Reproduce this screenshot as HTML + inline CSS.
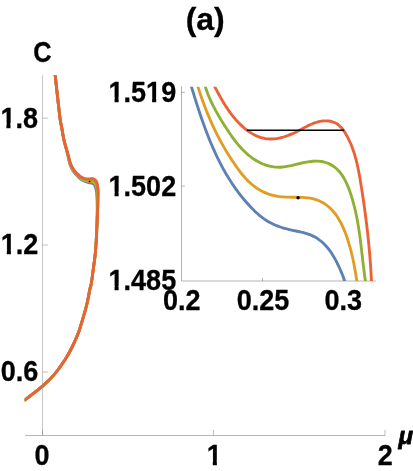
<!DOCTYPE html>
<html><head><meta charset="utf-8"><title>plot</title>
<style>
html,body{margin:0;padding:0;background:#fff;}
body{width:413px;height:471px;overflow:hidden;font-family:"Liberation Sans",sans-serif;}
svg{display:block;}
</style></head><body>
<svg width="413" height="471" viewBox="0 0 413 471">
<rect width="413" height="471" fill="#fff"/>
<g font-family="Liberation Sans, sans-serif" font-weight="bold" fill="#000" stroke="#000" stroke-linejoin="round" opacity="0.999">
<g transform="translate(205.2 30) scale(1.0 1)"><text x="-19.55" text-anchor="start" font-size="32" stroke-width="0.3" >(a)</text></g>
<g transform="translate(42.4 62) scale(0.875 1)"><text x="-10.47" text-anchor="start" font-size="29.0" stroke-width="0.3" >C</text></g>
<g transform="translate(38.0 127.9) scale(0.932 1)"><text x="-40.31" text-anchor="start" font-size="29.0" stroke-width="0.3" >1.8</text><rect x="-41.87" y="-4.66" width="7.99" height="6.78" fill="#fff" stroke="none"/><rect x="-29.51" y="-4.66" width="5.98" height="6.78" fill="#fff" stroke="none"/></g>
<g transform="translate(38.4 254.4) scale(0.932 1)"><text x="-40.31" text-anchor="start" font-size="29.0" stroke-width="0.3" >1.2</text><rect x="-41.87" y="-4.66" width="7.99" height="6.78" fill="#fff" stroke="none"/><rect x="-29.51" y="-4.66" width="5.98" height="6.78" fill="#fff" stroke="none"/></g>
<g transform="translate(38.4 381.3) scale(0.932 1)"><text x="-40.31" text-anchor="start" font-size="29.0" stroke-width="0.3" >0.6</text></g>
<g transform="translate(42.0 464.8) scale(0.932 1)"><text x="-8.06" text-anchor="start" font-size="29.0" stroke-width="0.3" >0</text></g>
<g transform="translate(214.3 464.8) scale(0.932 1)"><text x="-8.06" text-anchor="start" font-size="29.0" stroke-width="0.3" >1</text><rect x="-9.62" y="-4.66" width="7.99" height="6.78" fill="#fff" stroke="none"/><rect x="2.74" y="-4.66" width="5.98" height="6.78" fill="#fff" stroke="none"/></g>
<g transform="translate(385.2 464.8) scale(0.932 1)"><text x="-8.06" text-anchor="start" font-size="29.0" stroke-width="0.3" >2</text></g>
<g transform="translate(398.6 444.3) scale(1.0 1)"><text x="0.00" text-anchor="start" font-size="24" stroke-width="0.8" font-style="italic">μ</text></g>
<g transform="translate(176.2 102.1) scale(0.932 1)"><text x="-72.57" text-anchor="start" font-size="29.0" stroke-width="0.3" >1.519</text><rect x="-74.13" y="-4.66" width="7.99" height="6.78" fill="#fff" stroke="none"/><rect x="-61.77" y="-4.66" width="5.98" height="6.78" fill="#fff" stroke="none"/><rect x="-32.47" y="-4.66" width="6.64" height="6.78" fill="#fff" stroke="none"/><rect x="-21.45" y="-4.66" width="5.98" height="6.78" fill="#fff" stroke="none"/></g>
<g transform="translate(176.2 196.2) scale(0.932 1)"><text x="-72.57" text-anchor="start" font-size="29.0" stroke-width="0.3" >1.502</text><rect x="-74.13" y="-4.66" width="7.99" height="6.78" fill="#fff" stroke="none"/><rect x="-61.77" y="-4.66" width="5.98" height="6.78" fill="#fff" stroke="none"/></g>
<g transform="translate(176.2 290.4) scale(0.932 1)"><text x="-72.57" text-anchor="start" font-size="29.0" stroke-width="0.3" >1.485</text><rect x="-74.13" y="-4.66" width="7.99" height="6.78" fill="#fff" stroke="none"/><rect x="-61.77" y="-4.66" width="5.98" height="6.78" fill="#fff" stroke="none"/></g>
<g transform="translate(181.8 310.4) scale(0.932 1)"><text x="-20.16" text-anchor="start" font-size="29.0" stroke-width="0.3" >0.2</text></g>
<g transform="translate(263 310.4) scale(0.932 1)"><text x="-28.22" text-anchor="start" font-size="29.0" stroke-width="0.3" >0.25</text></g>
<g transform="translate(343.2 310.4) scale(0.932 1)"><text x="-20.16" text-anchor="start" font-size="29.0" stroke-width="0.3" >0.3</text></g>
</g>
<clipPath id="mc"><rect x="24.65" y="75.2" width="365" height="360"/></clipPath>
<g clip-path="url(#mc)">
<path d="M24.00 400.50 C24.18 400.37 22.05 402.05 25.10 399.70 C28.15 397.35 37.38 390.67 42.30 386.40 C47.22 382.13 50.78 378.58 54.60 374.10 C58.42 369.62 62.23 364.10 65.20 359.50 C68.17 354.90 70.25 350.82 72.40 346.50 C74.55 342.18 76.38 338.17 78.10 333.60 C79.82 329.03 81.25 323.95 82.70 319.10 C84.15 314.25 85.63 309.35 86.80 304.50 C87.97 299.65 88.95 293.48 89.70 290.00 C90.45 286.52 90.70 287.08 91.30 283.60 C91.90 280.12 92.65 273.95 93.29 269.10 C93.94 264.25 94.69 259.35 95.18 254.50 C95.67 249.65 95.93 245.90 96.24 240.00 C96.56 234.10 96.89 225.02 97.05 219.10 C97.21 213.18 97.23 208.18 97.20 204.50 C97.18 200.82 97.06 199.33 96.91 197.00 C96.76 194.67 96.70 192.54 96.31 190.50 C95.92 188.46 94.87 185.72 94.57 184.75 C94.26 183.78 94.50 184.69 94.47 184.65 C94.43 184.62 94.38 184.57 94.34 184.53 C94.29 184.50 94.25 184.46 94.20 184.42 C94.16 184.38 94.11 184.33 94.06 184.29 C94.01 184.25 93.96 184.21 93.91 184.17 C93.85 184.13 93.80 184.09 93.74 184.06 C93.69 184.02 93.63 183.98 93.57 183.94 C93.51 183.90 93.45 183.86 93.39 183.82 C93.32 183.79 93.26 183.75 93.19 183.71 C93.12 183.68 93.06 183.64 92.98 183.60 C92.91 183.57 92.84 183.54 92.76 183.50 C92.69 183.47 92.61 183.44 92.53 183.41 C92.45 183.38 92.37 183.35 92.28 183.32 C92.19 183.29 92.11 183.26 92.01 183.23 C91.92 183.21 91.83 183.18 91.73 183.16 C91.64 183.14 91.54 183.12 91.44 183.10 C91.34 183.08 91.23 183.06 91.12 183.04 C91.02 183.02 90.91 183.01 90.80 182.99 C90.69 182.98 90.58 182.96 90.46 182.94 C90.35 182.92 90.23 182.89 90.12 182.86 C90.00 182.84 89.88 182.81 89.76 182.79 C89.65 182.77 89.53 182.74 89.41 182.72 C89.29 182.70 89.17 182.67 89.05 182.65 C88.94 182.62 88.82 182.60 88.70 182.58 C88.58 182.55 88.47 182.53 88.35 182.50 C88.24 182.47 88.12 182.45 88.01 182.42 C87.90 182.40 87.78 182.37 87.67 182.34 C87.56 182.31 87.45 182.28 87.34 182.25 C87.23 182.22 87.13 182.19 87.02 182.16 C86.91 182.13 86.81 182.10 86.71 182.07 C86.60 182.04 86.50 182.00 86.40 181.97 C86.30 181.93 86.20 181.90 86.10 181.86 C86.00 181.83 85.91 181.79 85.81 181.75 C85.72 181.71 85.63 181.67 85.53 181.64 C85.44 181.60 85.35 181.56 85.26 181.52 C85.17 181.48 85.08 181.43 85.00 181.39 C84.91 181.35 84.83 181.31 84.74 181.27 C84.65 181.23 84.56 181.18 84.47 181.14 C84.38 181.10 84.30 181.06 84.21 181.02 C84.12 180.97 84.04 180.93 83.96 180.89 C83.87 180.85 83.79 180.80 83.71 180.76 C83.62 180.72 83.54 180.67 83.46 180.63 C83.38 180.59 83.30 180.54 83.23 180.50 C83.15 180.46 83.07 180.42 82.99 180.37 C82.92 180.33 82.84 180.28 82.77 180.24 C82.69 180.20 82.62 180.15 82.55 180.11 C82.47 180.07 82.40 180.02 82.33 179.98 C82.26 179.94 82.19 179.91 82.12 179.87 C82.05 179.84 81.98 179.80 81.91 179.76 C81.84 179.73 81.78 179.69 81.71 179.65 C81.65 179.62 81.58 179.58 81.51 179.54 C81.45 179.50 81.39 179.47 81.32 179.43 C81.26 179.39 81.20 179.35 81.13 179.32 C81.07 179.28 81.01 179.24 80.95 179.20 C80.89 179.16 80.83 179.13 80.77 179.09 C80.71 179.05 80.65 179.01 80.59 178.97 C80.54 178.93 80.48 178.89 80.42 178.85 C80.36 178.81 80.31 178.78 80.25 178.74 C80.20 178.70 80.14 178.66 80.09 178.62 C80.03 178.58 79.98 178.54 79.93 178.50 C79.87 178.46 79.82 178.42 79.77 178.38 C79.71 178.34 79.66 178.30 79.61 178.26 C79.56 178.22 79.51 178.18 79.46 178.14 C79.41 178.10 79.36 178.06 79.31 178.02 C79.26 177.98 79.22 177.94 79.18 177.90 C79.14 177.86 79.10 177.82 79.06 177.78 C79.02 177.74 78.98 177.69 78.94 177.65 C78.90 177.61 78.86 177.57 78.82 177.53 C78.78 177.49 78.74 177.45 78.70 177.41 C78.67 177.37 78.63 177.33 78.59 177.29 C78.55 177.25 78.52 177.21 78.48 177.16 C78.44 177.12 78.41 177.08 78.37 177.04 C78.33 177.00 78.30 176.96 78.26 176.92 C78.22 176.88 78.19 176.84 78.15 176.80 C78.12 176.76 78.08 176.71 78.05 176.67 C78.01 176.63 77.98 176.59 77.94 176.55 C77.91 176.51 77.87 176.46 77.84 176.43 C77.81 176.40 78.07 176.66 77.78 176.36 C77.49 176.06 76.87 175.44 76.12 174.60 C75.36 173.76 74.24 172.90 73.25 171.30 C72.26 169.70 71.11 167.72 70.19 165.00 C69.27 162.28 68.29 157.28 67.73 155.00 C67.17 152.72 67.51 153.93 66.84 151.30 C66.18 148.67 64.61 143.23 63.74 139.20 C62.87 135.17 62.26 130.80 61.61 127.10 C60.96 123.40 60.91 125.67 59.83 117.00 C58.76 108.33 55.95 82.27 55.15 75.10 C54.35 67.93 55.07 74.18 55.05 74.00" fill="none" stroke="#5e81b5" stroke-width="2.85" stroke-linejoin="round"/>
<path d="M24.00 400.50 C24.18 400.37 22.05 402.05 25.10 399.70 C28.15 397.35 37.38 390.67 42.30 386.40 C47.22 382.13 50.78 378.58 54.60 374.10 C58.42 369.62 62.23 364.10 65.20 359.50 C68.17 354.90 70.25 350.82 72.40 346.50 C74.55 342.18 76.38 338.17 78.10 333.60 C79.82 329.03 81.25 323.95 82.70 319.10 C84.15 314.25 85.63 309.35 86.80 304.50 C87.97 299.65 88.95 293.48 89.70 290.00 C90.45 286.52 90.70 287.08 91.30 283.60 C91.90 280.12 92.65 273.95 93.30 269.10 C93.94 264.25 94.69 259.35 95.19 254.50 C95.68 249.65 95.94 245.90 96.27 240.00 C96.60 234.10 96.96 225.02 97.17 219.10 C97.37 213.18 97.47 208.18 97.52 204.50 C97.57 200.82 97.51 199.33 97.45 197.00 C97.39 194.67 97.43 192.54 97.17 190.50 C96.90 188.46 96.09 185.73 95.86 184.75 C95.64 183.77 95.83 184.68 95.82 184.65 C95.80 184.61 95.78 184.57 95.76 184.53 C95.75 184.49 95.73 184.45 95.71 184.41 C95.69 184.37 95.67 184.33 95.65 184.29 C95.63 184.25 95.61 184.21 95.59 184.17 C95.57 184.14 95.55 184.10 95.53 184.06 C95.50 184.02 95.48 183.98 95.46 183.94 C95.43 183.90 95.41 183.87 95.39 183.83 C95.36 183.79 95.34 183.75 95.31 183.71 C95.28 183.67 95.26 183.63 95.23 183.60 C95.20 183.56 95.17 183.52 95.14 183.48 C95.11 183.44 95.08 183.40 95.05 183.36 C95.02 183.33 94.99 183.29 94.95 183.25 C94.92 183.21 94.88 183.17 94.85 183.13 C94.81 183.09 94.78 183.06 94.74 183.02 C94.70 182.98 94.66 182.94 94.62 182.90 C94.58 182.86 94.53 182.83 94.49 182.79 C94.44 182.75 94.40 182.71 94.35 182.68 C94.30 182.64 94.25 182.60 94.20 182.57 C94.15 182.53 94.09 182.49 94.04 182.46 C93.98 182.42 93.92 182.39 93.86 182.35 C93.80 182.32 93.74 182.28 93.67 182.25 C93.61 182.22 93.54 182.19 93.47 182.16 C93.40 182.13 93.33 182.10 93.25 182.07 C93.18 182.04 93.10 182.01 93.02 181.98 C92.93 181.96 92.84 181.93 92.75 181.91 C92.67 181.88 92.57 181.86 92.48 181.84 C92.39 181.82 92.29 181.80 92.20 181.78 C92.10 181.76 92.00 181.74 91.90 181.72 C91.80 181.71 91.70 181.69 91.60 181.68 C91.50 181.67 91.39 181.65 91.29 181.64 C91.18 181.63 91.08 181.62 90.97 181.62 C90.86 181.61 90.75 181.61 90.64 181.60 C90.54 181.59 90.43 181.58 90.31 181.57 C90.20 181.55 90.09 181.53 89.98 181.52 C89.87 181.50 89.75 181.49 89.64 181.47 C89.53 181.46 89.41 181.44 89.30 181.43 C89.18 181.41 89.07 181.40 88.96 181.38 C88.84 181.37 88.73 181.35 88.61 181.34 C88.50 181.32 88.38 181.31 88.27 181.29 C88.15 181.27 88.04 181.26 87.93 181.24 C87.81 181.22 87.70 181.21 87.59 181.19 C87.47 181.17 87.36 181.15 87.25 181.13 C87.14 181.11 87.03 181.08 86.92 181.06 C86.81 181.04 86.70 181.01 86.59 180.99 C86.48 180.96 86.37 180.94 86.27 180.91 C86.16 180.88 86.05 180.85 85.95 180.83 C85.85 180.80 85.75 180.77 85.64 180.74 C85.54 180.71 85.44 180.67 85.35 180.64 C85.25 180.61 85.15 180.58 85.06 180.54 C84.96 180.51 84.87 180.48 84.78 180.44 C84.69 180.41 84.60 180.37 84.51 180.33 C84.43 180.30 84.34 180.26 84.25 180.22 C84.17 180.19 84.09 180.15 84.01 180.11 C83.92 180.07 83.84 180.03 83.76 179.99 C83.68 179.95 83.61 179.91 83.53 179.87 C83.45 179.84 83.38 179.79 83.30 179.75 C83.23 179.71 83.15 179.67 83.08 179.63 C83.01 179.59 82.93 179.55 82.86 179.51 C82.79 179.47 82.72 179.43 82.65 179.39 C82.58 179.35 82.51 179.30 82.44 179.26 C82.37 179.22 82.31 179.18 82.24 179.14 C82.17 179.10 82.10 179.07 82.04 179.03 C81.97 179.00 81.91 178.97 81.84 178.93 C81.78 178.90 81.71 178.86 81.65 178.83 C81.58 178.79 81.52 178.76 81.46 178.72 C81.39 178.69 81.33 178.66 81.27 178.62 C81.21 178.59 81.15 178.55 81.09 178.52 C81.03 178.48 80.97 178.45 80.91 178.41 C80.85 178.38 80.79 178.34 80.73 178.30 C80.67 178.27 80.62 178.23 80.56 178.20 C80.50 178.16 80.45 178.13 80.39 178.09 C80.34 178.05 80.28 178.02 80.23 177.98 C80.18 177.95 80.13 177.91 80.09 177.87 C80.04 177.84 79.99 177.80 79.95 177.77 C79.90 177.73 79.86 177.69 79.81 177.66 C79.77 177.62 79.72 177.58 79.68 177.55 C79.64 177.51 79.59 177.47 79.55 177.44 C79.51 177.40 79.47 177.36 79.42 177.32 C79.38 177.29 79.34 177.25 79.30 177.21 C79.26 177.18 79.22 177.14 79.18 177.10 C79.14 177.06 79.10 177.03 79.06 176.99 C79.03 176.95 78.99 176.91 78.95 176.88 C78.91 176.84 78.88 176.80 78.84 176.76 C78.80 176.72 78.77 176.69 78.73 176.65 C78.70 176.61 78.66 176.57 78.63 176.53 C78.59 176.50 78.55 176.45 78.53 176.42 C78.50 176.39 78.77 176.66 78.47 176.36 C78.17 176.06 77.51 175.44 76.71 174.60 C75.92 173.76 74.74 172.90 73.70 171.30 C72.66 169.70 71.43 167.72 70.46 165.00 C69.48 162.28 68.44 157.28 67.85 155.00 C67.26 152.72 67.61 153.93 66.93 151.30 C66.25 148.67 64.65 143.23 63.77 139.20 C62.88 135.17 62.28 130.80 61.62 127.10 C60.97 123.40 60.92 125.67 59.84 117.00 C58.76 108.33 55.95 82.27 55.15 75.10 C54.35 67.93 55.07 74.18 55.05 74.00" fill="none" stroke="#e19c24" stroke-width="2.85" stroke-linejoin="round"/>
<path d="M24.00 400.50 C24.18 400.37 22.05 402.05 25.10 399.70 C28.15 397.35 37.38 390.67 42.30 386.40 C47.22 382.13 50.78 378.58 54.60 374.10 C58.42 369.62 62.23 364.10 65.20 359.50 C68.17 354.90 70.25 350.82 72.40 346.50 C74.55 342.18 76.38 338.17 78.10 333.60 C79.82 329.03 81.25 323.95 82.70 319.10 C84.15 314.25 85.63 309.35 86.80 304.50 C87.97 299.65 88.95 293.48 89.70 290.00 C90.45 286.52 90.70 287.08 91.30 283.60 C91.90 280.12 92.65 273.95 93.30 269.10 C93.95 264.25 94.70 259.35 95.20 254.50 C95.69 249.65 95.95 245.90 96.29 240.00 C96.63 234.10 97.00 225.02 97.24 219.10 C97.49 213.18 97.64 208.18 97.74 204.50 C97.84 200.82 97.82 199.33 97.83 197.00 C97.83 194.67 97.95 192.54 97.77 190.50 C97.59 188.46 96.94 185.72 96.77 184.75 C96.60 183.78 96.75 184.69 96.73 184.66 C96.72 184.62 96.70 184.58 96.69 184.54 C96.68 184.50 96.66 184.47 96.65 184.43 C96.63 184.39 96.62 184.35 96.61 184.31 C96.59 184.27 96.58 184.24 96.57 184.20 C96.56 184.16 96.54 184.12 96.53 184.08 C96.52 184.05 96.51 184.01 96.49 183.97 C96.48 183.93 96.47 183.89 96.46 183.86 C96.45 183.82 96.43 183.78 96.42 183.74 C96.41 183.70 96.40 183.67 96.39 183.63 C96.37 183.59 96.36 183.55 96.35 183.52 C96.34 183.48 96.32 183.44 96.31 183.40 C96.30 183.37 96.29 183.33 96.27 183.29 C96.26 183.25 96.25 183.22 96.23 183.18 C96.22 183.14 96.21 183.10 96.19 183.07 C96.18 183.03 96.16 182.99 96.15 182.95 C96.13 182.92 96.12 182.88 96.10 182.84 C96.09 182.81 96.07 182.77 96.06 182.73 C96.04 182.69 96.02 182.66 96.00 182.62 C95.99 182.58 95.97 182.54 95.95 182.51 C95.93 182.47 95.91 182.43 95.89 182.39 C95.87 182.36 95.85 182.32 95.83 182.28 C95.81 182.24 95.79 182.21 95.76 182.17 C95.74 182.13 95.72 182.10 95.69 182.06 C95.67 182.02 95.64 181.98 95.61 181.94 C95.58 181.91 95.54 181.87 95.51 181.83 C95.47 181.79 95.44 181.76 95.40 181.72 C95.36 181.68 95.33 181.64 95.29 181.61 C95.25 181.57 95.21 181.53 95.17 181.49 C95.13 181.45 95.09 181.42 95.05 181.38 C95.00 181.34 94.96 181.30 94.91 181.27 C94.87 181.23 94.82 181.19 94.77 181.16 C94.72 181.12 94.67 181.08 94.62 181.05 C94.57 181.01 94.52 180.98 94.46 180.94 C94.41 180.91 94.35 180.87 94.29 180.84 C94.23 180.81 94.17 180.78 94.10 180.75 C94.04 180.71 93.97 180.68 93.91 180.65 C93.84 180.63 93.77 180.60 93.69 180.57 C93.62 180.54 93.55 180.52 93.47 180.49 C93.39 180.47 93.31 180.44 93.23 180.42 C93.14 180.40 93.06 180.38 92.97 180.36 C92.88 180.34 92.79 180.32 92.69 180.31 C92.60 180.29 92.50 180.28 92.40 180.26 C92.30 180.25 92.20 180.24 92.10 180.23 C92.00 180.22 91.89 180.21 91.79 180.21 C91.68 180.20 91.58 180.20 91.47 180.19 C91.37 180.19 91.26 180.19 91.16 180.19 C91.05 180.19 90.94 180.19 90.84 180.20 C90.73 180.20 90.63 180.21 90.52 180.21 C90.41 180.22 90.31 180.23 90.20 180.23 C90.09 180.23 89.99 180.21 89.88 180.21 C89.77 180.20 89.67 180.20 89.56 180.20 C89.46 180.19 89.35 180.19 89.25 180.18 C89.14 180.18 89.04 180.17 88.93 180.17 C88.83 180.17 88.72 180.16 88.62 180.16 C88.52 180.15 88.41 180.15 88.31 180.14 C88.20 180.14 88.10 180.13 88.00 180.12 C87.89 180.11 87.79 180.11 87.69 180.10 C87.58 180.09 87.48 180.08 87.38 180.06 C87.27 180.05 87.17 180.04 87.07 180.02 C86.96 180.01 86.86 179.99 86.76 179.98 C86.65 179.96 86.55 179.94 86.45 179.92 C86.34 179.90 86.24 179.88 86.14 179.85 C86.04 179.83 85.93 179.81 85.83 179.78 C85.73 179.76 85.63 179.73 85.53 179.70 C85.43 179.68 85.33 179.65 85.24 179.62 C85.14 179.59 85.04 179.56 84.95 179.53 C84.85 179.50 84.76 179.47 84.67 179.44 C84.57 179.41 84.48 179.37 84.39 179.34 C84.30 179.31 84.21 179.27 84.13 179.24 C84.04 179.21 83.95 179.17 83.87 179.14 C83.78 179.10 83.70 179.07 83.62 179.03 C83.54 178.99 83.46 178.96 83.38 178.92 C83.30 178.88 83.22 178.85 83.14 178.81 C83.07 178.77 82.99 178.73 82.92 178.70 C82.84 178.66 82.77 178.62 82.69 178.58 C82.62 178.54 82.55 178.50 82.48 178.47 C82.41 178.43 82.34 178.39 82.27 178.35 C82.20 178.31 82.13 178.27 82.06 178.23 C81.99 178.19 81.93 178.16 81.86 178.13 C81.79 178.10 81.72 178.07 81.66 178.03 C81.60 178.00 81.54 177.97 81.48 177.94 C81.42 177.91 81.36 177.87 81.31 177.84 C81.25 177.81 81.19 177.77 81.13 177.74 C81.08 177.71 81.02 177.68 80.97 177.64 C80.91 177.61 80.86 177.58 80.80 177.55 C80.75 177.51 80.69 177.48 80.64 177.45 C80.59 177.42 80.53 177.38 80.48 177.35 C80.43 177.32 80.38 177.28 80.33 177.25 C80.28 177.22 80.23 177.19 80.18 177.15 C80.13 177.12 80.09 177.08 80.04 177.05 C79.99 177.02 79.95 176.98 79.90 176.95 C79.86 176.91 79.81 176.88 79.77 176.85 C79.73 176.81 79.68 176.78 79.64 176.74 C79.60 176.71 79.56 176.67 79.52 176.63 C79.49 176.60 79.45 176.56 79.41 176.53 C79.38 176.49 79.33 176.44 79.31 176.41 C79.28 176.39 79.58 176.66 79.26 176.36 C78.94 176.06 78.23 175.44 77.39 174.60 C76.55 173.76 75.32 172.90 74.22 171.30 C73.11 169.70 71.80 167.72 70.76 165.00 C69.72 162.28 68.60 157.28 67.98 155.00 C67.36 152.72 67.72 153.93 67.03 151.30 C66.33 148.67 64.70 143.23 63.80 139.20 C62.91 135.17 62.29 130.80 61.63 127.10 C60.97 123.40 60.92 125.67 59.84 117.00 C58.76 108.33 55.95 82.27 55.15 75.10 C54.35 67.93 55.07 74.18 55.05 74.00" fill="none" stroke="#8fb032" stroke-width="2.85" stroke-linejoin="round"/>
<path d="M24.00 400.50 C24.18 400.37 22.05 402.05 25.10 399.70 C28.15 397.35 37.38 390.67 42.30 386.40 C47.22 382.13 50.78 378.58 54.60 374.10 C58.42 369.62 62.23 364.10 65.20 359.50 C68.17 354.90 70.25 350.82 72.40 346.50 C74.55 342.18 76.38 338.17 78.10 333.60 C79.82 329.03 81.25 323.95 82.70 319.10 C84.15 314.25 85.63 309.35 86.80 304.50 C87.97 299.65 88.95 293.48 89.70 290.00 C90.45 286.52 90.70 287.08 91.30 283.60 C91.90 280.12 92.65 273.95 93.30 269.10 C93.95 264.25 94.70 259.35 95.20 254.50 C95.70 249.65 95.95 245.90 96.30 240.00 C96.65 234.10 97.03 225.02 97.30 219.10 C97.57 213.18 97.77 208.18 97.90 204.50 C98.03 200.82 98.05 199.33 98.10 197.00 C98.15 194.67 98.31 192.54 98.20 190.50 C98.09 188.46 97.55 185.72 97.42 184.75 C97.29 183.78 97.41 184.70 97.41 184.66 C97.40 184.63 97.40 184.59 97.39 184.55 C97.39 184.51 97.38 184.48 97.37 184.44 C97.37 184.40 97.36 184.37 97.35 184.33 C97.35 184.29 97.34 184.25 97.33 184.22 C97.33 184.18 97.32 184.14 97.31 184.11 C97.31 184.07 97.30 184.03 97.29 183.99 C97.28 183.96 97.28 183.92 97.27 183.88 C97.26 183.85 97.25 183.81 97.24 183.77 C97.23 183.73 97.22 183.70 97.22 183.66 C97.21 183.62 97.20 183.59 97.19 183.55 C97.18 183.51 97.17 183.47 97.16 183.44 C97.15 183.40 97.14 183.36 97.13 183.33 C97.12 183.29 97.11 183.25 97.10 183.21 C97.09 183.18 97.08 183.14 97.07 183.10 C97.06 183.07 97.05 183.03 97.03 182.99 C97.02 182.96 97.01 182.92 97.00 182.88 C96.99 182.84 96.98 182.81 96.96 182.77 C96.95 182.73 96.94 182.70 96.93 182.66 C96.92 182.62 96.90 182.59 96.89 182.55 C96.88 182.51 96.87 182.48 96.85 182.44 C96.84 182.40 96.83 182.36 96.81 182.33 C96.80 182.29 96.79 182.25 96.77 182.22 C96.76 182.18 96.75 182.14 96.73 182.11 C96.72 182.07 96.71 182.03 96.69 182.00 C96.67 181.96 96.65 181.92 96.63 181.89 C96.60 181.85 96.58 181.81 96.56 181.77 C96.54 181.74 96.52 181.70 96.50 181.66 C96.47 181.63 96.45 181.59 96.43 181.55 C96.41 181.52 96.39 181.48 96.36 181.44 C96.34 181.41 96.32 181.37 96.30 181.33 C96.27 181.30 96.25 181.26 96.23 181.22 C96.20 181.18 96.18 181.15 96.16 181.11 C96.13 181.07 96.11 181.04 96.09 181.00 C96.06 180.96 96.04 180.93 96.02 180.89 C95.99 180.85 95.97 180.82 95.94 180.78 C95.92 180.74 95.89 180.71 95.87 180.67 C95.84 180.63 95.82 180.60 95.79 180.56 C95.76 180.52 95.74 180.49 95.71 180.45 C95.68 180.41 95.65 180.38 95.62 180.34 C95.59 180.30 95.56 180.27 95.53 180.23 C95.50 180.20 95.47 180.16 95.43 180.12 C95.40 180.09 95.37 180.05 95.33 180.02 C95.30 179.98 95.26 179.94 95.22 179.91 C95.19 179.87 95.15 179.84 95.11 179.80 C95.07 179.77 95.03 179.73 94.99 179.70 C94.94 179.66 94.90 179.63 94.85 179.59 C94.81 179.56 94.76 179.52 94.71 179.49 C94.67 179.46 94.62 179.42 94.57 179.39 C94.51 179.35 94.46 179.32 94.41 179.29 C94.35 179.25 94.29 179.22 94.24 179.19 C94.18 179.15 94.12 179.12 94.05 179.09 C93.99 179.06 93.93 179.03 93.86 179.00 C93.79 178.97 93.73 178.94 93.66 178.91 C93.59 178.88 93.52 178.86 93.44 178.83 C93.37 178.81 93.29 178.79 93.20 178.77 C93.12 178.75 93.03 178.73 92.94 178.72 C92.85 178.70 92.75 178.69 92.65 178.68 C92.56 178.67 92.46 178.66 92.36 178.66 C92.26 178.65 92.15 178.65 92.05 178.65 C91.95 178.65 91.84 178.65 91.74 178.66 C91.63 178.66 91.53 178.67 91.43 178.67 C91.33 178.68 91.23 178.69 91.13 178.70 C91.03 178.71 90.93 178.72 90.83 178.73 C90.74 178.74 90.64 178.76 90.55 178.77 C90.46 178.79 90.36 178.80 90.27 178.82 C90.18 178.83 90.09 178.85 90.00 178.87 C89.90 178.88 89.81 178.88 89.72 178.88 C89.63 178.89 89.54 178.90 89.45 178.90 C89.36 178.91 89.27 178.91 89.18 178.92 C89.09 178.93 89.00 178.93 88.91 178.94 C88.82 178.94 88.72 178.95 88.63 178.95 C88.54 178.96 88.44 178.96 88.35 178.96 C88.25 178.96 88.16 178.97 88.06 178.97 C87.96 178.97 87.86 178.97 87.76 178.97 C87.67 178.97 87.57 178.96 87.47 178.96 C87.37 178.96 87.27 178.95 87.17 178.95 C87.06 178.94 86.96 178.94 86.86 178.93 C86.76 178.92 86.66 178.91 86.56 178.90 C86.46 178.90 86.35 178.88 86.25 178.87 C86.15 178.86 86.05 178.84 85.95 178.83 C85.85 178.81 85.75 178.80 85.65 178.78 C85.55 178.76 85.45 178.74 85.35 178.72 C85.25 178.70 85.15 178.67 85.05 178.65 C84.96 178.63 84.86 178.60 84.76 178.57 C84.67 178.55 84.57 178.52 84.48 178.49 C84.38 178.46 84.29 178.43 84.20 178.40 C84.10 178.37 84.01 178.34 83.92 178.31 C83.83 178.28 83.74 178.25 83.66 178.21 C83.57 178.18 83.49 178.15 83.41 178.11 C83.33 178.08 83.25 178.05 83.18 178.01 C83.10 177.98 83.02 177.94 82.95 177.91 C82.88 177.87 82.80 177.84 82.73 177.80 C82.66 177.76 82.59 177.73 82.52 177.69 C82.45 177.65 82.38 177.62 82.32 177.58 C82.25 177.54 82.18 177.50 82.12 177.47 C82.05 177.43 81.99 177.40 81.93 177.36 C81.87 177.33 81.81 177.30 81.75 177.27 C81.69 177.24 81.63 177.21 81.57 177.18 C81.51 177.15 81.45 177.11 81.40 177.08 C81.34 177.05 81.29 177.02 81.23 176.99 C81.18 176.95 81.12 176.92 81.07 176.89 C81.02 176.86 80.96 176.83 80.91 176.79 C80.86 176.76 80.81 176.73 80.76 176.70 C80.71 176.66 80.66 176.63 80.61 176.60 C80.56 176.57 80.51 176.53 80.47 176.50 C80.42 176.47 80.36 176.43 80.32 176.40 C80.29 176.38 80.61 176.66 80.26 176.36 C79.92 176.06 79.15 175.44 78.26 174.60 C77.36 173.76 76.06 172.90 74.87 171.30 C73.69 169.70 72.27 167.72 71.15 165.00 C70.03 162.28 68.82 157.28 68.15 155.00 C67.48 152.72 67.87 153.93 67.15 151.30 C66.43 148.67 64.77 143.23 63.85 139.20 C62.93 135.17 62.32 130.80 61.65 127.10 C60.98 123.40 60.93 125.67 59.85 117.00 C58.77 108.33 55.95 82.27 55.15 75.10 C54.35 67.93 55.07 74.18 55.05 74.00" fill="none" stroke="#eb6235" stroke-width="2.85" stroke-linejoin="round"/>
</g>
<ellipse cx="89.57" cy="181.48" rx="0.9" ry="0.7" fill="#000"/>
<g stroke="#666" stroke-width="0.5" fill="none">
<path d="M42.5 75.4V435.5" stroke="#8c8c8c"/>
<path d="M25.1 435.5H385.2" stroke="#707070"/>
<path d="M42.75 118.2 h5.1" stroke="#7c7c7c"/>
<path d="M42.75 245.0 h5.1" stroke="#7c7c7c"/>
<path d="M42.75 371.95 h5.1" stroke="#7c7c7c"/>
<path d="M42.5 435.5 v-5.7" stroke="#7a7a7a"/>
<path d="M213.45 435.5 v-5.7" stroke="#7a7a7a"/>
<path d="M385 435.5 v-5.7" stroke="#7a7a7a"/>
<path d="M181.5 86.5V281"/>
<path d="M181.5 281H375.7"/>
<path d="M181.5 92.3 h3.4"/>
<path d="M181.5 186.1 h3.4"/>
<path d="M262.5 281 v-3.2"/>
<path d="M343.2 281 v-3.2"/>
</g>
<clipPath id="ic"><rect x="181.5" y="86.7" width="195" height="194.3"/></clipPath>
<g clip-path="url(#ic)">
<path d="M191.09 85.59 C191.26 86.12 191.74 87.72 192.06 88.79 C192.39 89.86 192.72 90.93 193.04 92.00 C193.37 93.06 193.70 94.13 194.03 95.20 C194.36 96.27 194.69 97.35 195.03 98.42 C195.36 99.49 195.70 100.56 196.04 101.63 C196.38 102.70 196.72 103.77 197.06 104.84 C197.40 105.91 197.75 106.99 198.10 108.06 C198.45 109.13 198.80 110.20 199.15 111.27 C199.51 112.34 199.86 113.41 200.22 114.47 C200.58 115.54 200.94 116.61 201.31 117.68 C201.68 118.74 202.05 119.81 202.42 120.87 C202.79 121.94 203.17 123.00 203.55 124.06 C203.93 125.13 204.32 126.19 204.71 127.25 C205.09 128.30 205.49 129.36 205.88 130.42 C206.28 131.47 206.68 132.53 207.09 133.58 C207.49 134.63 207.90 135.68 208.32 136.73 C208.73 137.78 209.15 138.83 209.58 139.87 C210.00 140.91 210.43 141.95 210.87 142.99 C211.30 144.03 211.74 145.07 212.19 146.10 C212.63 147.14 213.08 148.17 213.54 149.20 C214.00 150.22 214.46 151.25 214.93 152.27 C215.40 153.29 215.87 154.31 216.35 155.33 C216.83 156.34 217.32 157.35 217.81 158.36 C218.30 159.37 218.80 160.38 219.31 161.38 C219.81 162.38 220.32 163.38 220.84 164.37 C221.36 165.37 221.89 166.36 222.42 167.34 C222.95 168.33 223.49 169.31 224.04 170.29 C224.59 171.27 225.14 172.24 225.70 173.21 C226.26 174.18 226.83 175.14 227.41 176.10 C227.99 177.06 228.57 178.02 229.17 178.97 C229.76 179.92 230.36 180.86 230.97 181.80 C231.58 182.74 232.19 183.68 232.82 184.61 C233.45 185.54 234.08 186.46 234.72 187.38 C235.36 188.30 236.02 189.21 236.68 190.12 C237.34 191.03 238.00 191.93 238.68 192.83 C239.36 193.72 240.05 194.62 240.74 195.50 C241.44 196.38 242.15 197.26 242.86 198.14 C243.58 199.01 244.30 199.87 245.04 200.73 C245.77 201.59 246.52 202.45 247.27 203.29 C248.03 204.14 248.79 204.98 249.57 205.81 C250.34 206.64 251.13 207.47 251.92 208.29 C252.72 209.11 253.53 209.92 254.34 210.71 C255.16 211.51 255.99 212.29 256.83 213.06 C257.68 213.82 258.53 214.57 259.40 215.30 C260.26 216.03 261.14 216.74 262.04 217.42 C262.93 218.10 263.84 218.75 264.76 219.38 C265.68 220.01 266.61 220.60 267.56 221.17 C268.51 221.74 269.48 222.28 270.45 222.80 C271.43 223.31 272.42 223.80 273.42 224.26 C274.42 224.72 275.43 225.16 276.46 225.57 C277.48 225.99 278.52 226.38 279.56 226.75 C280.61 227.12 281.67 227.47 282.74 227.80 C283.80 228.13 284.88 228.44 285.96 228.73 C287.05 229.02 288.14 229.29 289.25 229.55 C290.35 229.81 291.46 230.05 292.57 230.29 C293.69 230.53 294.81 230.75 295.92 230.98 C297.04 231.22 298.16 231.44 299.27 231.69 C300.38 231.93 301.49 232.18 302.59 232.46 C303.68 232.73 304.77 233.02 305.85 233.34 C306.92 233.66 307.98 234.01 309.02 234.39 C310.06 234.77 311.09 235.19 312.09 235.64 C313.10 236.09 314.08 236.58 315.04 237.11 C316.00 237.64 316.93 238.20 317.84 238.81 C318.75 239.41 319.63 240.06 320.48 240.74 C321.34 241.42 322.17 242.14 322.98 242.89 C323.79 243.64 324.57 244.43 325.33 245.24 C326.09 246.05 326.82 246.89 327.54 247.76 C328.26 248.62 328.95 249.52 329.62 250.43 C330.30 251.34 330.95 252.28 331.58 253.24 C332.21 254.19 332.83 255.16 333.42 256.15 C334.02 257.14 334.59 258.14 335.15 259.16 C335.71 260.17 336.25 261.20 336.78 262.23 C337.30 263.26 337.81 264.31 338.31 265.35 C338.80 266.39 339.28 267.45 339.75 268.50 C340.21 269.55 340.66 270.60 341.10 271.65 C341.54 272.69 341.97 273.74 342.38 274.78 C342.80 275.82 343.20 276.86 343.59 277.88 C343.98 278.90 344.36 279.92 344.74 280.92 C345.11 281.92 345.64 283.38 345.82 283.88" fill="none" stroke="#5e81b5" stroke-width="2.85" stroke-linejoin="round"/>
<path d="M197.60 85.58 C197.75 86.08 198.21 87.59 198.53 88.59 C198.85 89.59 199.17 90.59 199.49 91.58 C199.82 92.58 200.15 93.58 200.48 94.57 C200.81 95.56 201.15 96.55 201.50 97.54 C201.84 98.53 202.19 99.52 202.54 100.51 C202.89 101.49 203.25 102.48 203.61 103.46 C203.97 104.44 204.34 105.42 204.71 106.40 C205.08 107.38 205.46 108.36 205.84 109.33 C206.22 110.30 206.61 111.28 207.00 112.25 C207.39 113.22 207.79 114.19 208.19 115.15 C208.59 116.12 208.99 117.08 209.41 118.04 C209.82 119.00 210.23 119.96 210.66 120.92 C211.08 121.88 211.50 122.83 211.94 123.78 C212.37 124.74 212.80 125.69 213.25 126.63 C213.69 127.58 214.14 128.53 214.59 129.47 C215.04 130.41 215.50 131.35 215.97 132.29 C216.43 133.23 216.90 134.17 217.37 135.10 C217.85 136.03 218.33 136.96 218.81 137.89 C219.30 138.82 219.79 139.74 220.29 140.66 C220.78 141.59 221.29 142.51 221.79 143.42 C222.30 144.34 222.82 145.25 223.34 146.17 C223.86 147.08 224.38 147.99 224.91 148.89 C225.44 149.80 225.98 150.70 226.52 151.60 C227.06 152.50 227.61 153.40 228.17 154.29 C228.72 155.19 229.28 156.08 229.85 156.97 C230.41 157.86 230.99 158.74 231.57 159.62 C232.14 160.51 232.73 161.38 233.32 162.26 C233.91 163.14 234.51 164.01 235.11 164.88 C235.71 165.75 236.32 166.62 236.94 167.48 C237.55 168.34 238.18 169.19 238.81 170.04 C239.44 170.89 240.08 171.73 240.73 172.56 C241.38 173.39 242.04 174.22 242.72 175.02 C243.39 175.83 244.07 176.63 244.77 177.41 C245.46 178.20 246.17 178.97 246.89 179.72 C247.61 180.47 248.35 181.21 249.10 181.92 C249.85 182.64 250.61 183.34 251.39 184.02 C252.17 184.70 252.97 185.36 253.78 185.99 C254.60 186.62 255.43 187.24 256.28 187.82 C257.13 188.41 258.00 188.97 258.88 189.50 C259.77 190.04 260.67 190.55 261.59 191.03 C262.51 191.51 263.45 191.96 264.40 192.39 C265.34 192.82 266.31 193.22 267.28 193.59 C268.26 193.96 269.25 194.30 270.25 194.61 C271.25 194.92 272.26 195.20 273.28 195.45 C274.30 195.70 275.34 195.92 276.38 196.11 C277.42 196.30 278.47 196.45 279.52 196.58 C280.58 196.71 281.64 196.81 282.71 196.89 C283.77 196.97 284.85 197.03 285.92 197.08 C287.00 197.13 288.07 197.15 289.15 197.18 C290.23 197.20 291.31 197.21 292.39 197.22 C293.47 197.23 294.55 197.24 295.62 197.25 C296.70 197.26 297.77 197.27 298.84 197.30 C299.90 197.32 300.97 197.35 302.02 197.40 C303.08 197.45 304.13 197.51 305.17 197.60 C306.21 197.69 307.25 197.79 308.27 197.93 C309.29 198.06 310.30 198.22 311.30 198.42 C312.30 198.61 313.29 198.84 314.26 199.11 C315.23 199.38 316.19 199.69 317.13 200.03 C318.08 200.38 319.00 200.77 319.91 201.20 C320.82 201.62 321.72 202.09 322.59 202.59 C323.47 203.09 324.32 203.62 325.16 204.19 C326.00 204.76 326.82 205.37 327.61 206.00 C328.41 206.64 329.19 207.30 329.94 208.00 C330.70 208.70 331.43 209.43 332.14 210.18 C332.85 210.94 333.54 211.72 334.21 212.53 C334.87 213.34 335.51 214.18 336.12 215.03 C336.74 215.89 337.33 216.78 337.90 217.67 C338.47 218.57 339.02 219.50 339.54 220.43 C340.07 221.36 340.58 222.31 341.07 223.27 C341.56 224.22 342.03 225.19 342.48 226.16 C342.93 227.14 343.37 228.12 343.79 229.10 C344.21 230.09 344.62 231.08 345.01 232.07 C345.40 233.06 345.78 234.06 346.14 235.06 C346.51 236.06 346.86 237.07 347.20 238.07 C347.54 239.08 347.86 240.09 348.18 241.10 C348.49 242.11 348.80 243.12 349.10 244.13 C349.39 245.14 349.68 246.15 349.96 247.16 C350.24 248.17 350.51 249.18 350.77 250.19 C351.03 251.20 351.29 252.21 351.53 253.22 C351.78 254.22 352.02 255.23 352.26 256.24 C352.49 257.25 352.72 258.26 352.94 259.28 C353.16 260.29 353.37 261.30 353.58 262.31 C353.79 263.33 353.99 264.34 354.19 265.36 C354.38 266.38 354.58 267.40 354.76 268.42 C354.95 269.45 355.13 270.47 355.31 271.50 C355.49 272.53 355.66 273.56 355.83 274.59 C356.00 275.63 356.16 276.67 356.32 277.71 C356.48 278.75 356.64 279.80 356.80 280.85 C356.95 281.90 357.17 283.49 357.25 284.02" fill="none" stroke="#e19c24" stroke-width="2.85" stroke-linejoin="round"/>
<path d="M205.00 85.48 C205.15 85.97 205.59 87.46 205.91 88.43 C206.23 89.40 206.55 90.37 206.89 91.33 C207.23 92.28 207.59 93.23 207.95 94.17 C208.31 95.10 208.68 96.03 209.07 96.96 C209.45 97.88 209.85 98.80 210.25 99.70 C210.66 100.61 211.07 101.52 211.50 102.41 C211.92 103.31 212.35 104.20 212.79 105.08 C213.24 105.97 213.69 106.85 214.14 107.72 C214.60 108.60 215.07 109.47 215.54 110.34 C216.02 111.21 216.50 112.07 216.98 112.93 C217.47 113.79 217.97 114.65 218.47 115.51 C218.97 116.36 219.48 117.22 219.99 118.07 C220.50 118.92 221.02 119.78 221.54 120.63 C222.06 121.48 222.59 122.33 223.12 123.18 C223.65 124.03 224.19 124.88 224.73 125.73 C225.27 126.59 225.81 127.44 226.36 128.29 C226.91 129.14 227.47 129.99 228.03 130.84 C228.59 131.68 229.15 132.53 229.72 133.37 C230.30 134.21 230.87 135.05 231.46 135.88 C232.04 136.71 232.64 137.54 233.24 138.36 C233.84 139.17 234.45 139.99 235.07 140.79 C235.68 141.60 236.31 142.39 236.95 143.18 C237.58 143.97 238.23 144.74 238.88 145.51 C239.54 146.27 240.20 147.03 240.88 147.77 C241.56 148.52 242.25 149.25 242.95 149.96 C243.65 150.68 244.36 151.38 245.09 152.07 C245.81 152.76 246.55 153.43 247.30 154.08 C248.05 154.74 248.82 155.38 249.60 156.00 C250.38 156.62 251.17 157.23 251.98 157.81 C252.79 158.39 253.61 158.96 254.45 159.50 C255.29 160.04 256.14 160.57 257.01 161.06 C257.87 161.56 258.75 162.04 259.64 162.48 C260.53 162.93 261.44 163.35 262.35 163.74 C263.26 164.14 264.18 164.50 265.11 164.84 C266.04 165.17 266.98 165.47 267.92 165.74 C268.87 166.01 269.82 166.25 270.78 166.45 C271.73 166.65 272.70 166.81 273.66 166.94 C274.63 167.06 275.60 167.15 276.57 167.20 C277.54 167.25 278.52 167.25 279.49 167.22 C280.47 167.20 281.45 167.13 282.43 167.03 C283.41 166.94 284.39 166.81 285.38 166.66 C286.37 166.52 287.35 166.34 288.34 166.15 C289.33 165.96 290.33 165.75 291.32 165.53 C292.32 165.32 293.31 165.08 294.31 164.85 C295.31 164.61 296.32 164.36 297.32 164.12 C298.33 163.88 299.33 163.64 300.34 163.40 C301.35 163.17 302.37 162.93 303.38 162.72 C304.40 162.50 305.41 162.29 306.43 162.11 C307.45 161.92 308.46 161.75 309.48 161.61 C310.49 161.47 311.51 161.35 312.51 161.26 C313.52 161.18 314.53 161.12 315.53 161.10 C316.53 161.09 317.52 161.10 318.51 161.17 C319.50 161.23 320.48 161.34 321.45 161.49 C322.42 161.65 323.38 161.85 324.33 162.10 C325.27 162.34 326.21 162.64 327.12 162.97 C328.02 163.31 328.92 163.69 329.78 164.11 C330.64 164.53 331.48 164.99 332.29 165.49 C333.10 165.99 333.88 166.54 334.63 167.12 C335.38 167.69 336.10 168.31 336.79 168.96 C337.48 169.60 338.15 170.29 338.79 171.00 C339.43 171.71 340.04 172.45 340.64 173.22 C341.23 173.99 341.80 174.79 342.34 175.61 C342.89 176.42 343.41 177.27 343.91 178.13 C344.42 178.99 344.90 179.88 345.36 180.78 C345.83 181.68 346.27 182.60 346.70 183.53 C347.13 184.46 347.53 185.41 347.93 186.36 C348.32 187.31 348.70 188.28 349.07 189.26 C349.43 190.23 349.78 191.21 350.12 192.20 C350.46 193.18 350.79 194.17 351.11 195.16 C351.42 196.15 351.73 197.14 352.02 198.13 C352.32 199.12 352.61 200.11 352.88 201.09 C353.16 202.08 353.43 203.06 353.69 204.05 C353.95 205.03 354.20 206.02 354.45 207.00 C354.69 207.98 354.93 208.96 355.16 209.95 C355.38 210.93 355.60 211.91 355.82 212.89 C356.03 213.87 356.24 214.85 356.44 215.83 C356.64 216.80 356.83 217.78 357.02 218.76 C357.21 219.74 357.39 220.72 357.57 221.70 C357.74 222.67 357.91 223.65 358.08 224.63 C358.25 225.60 358.41 226.58 358.56 227.56 C358.72 228.54 358.87 229.51 359.02 230.49 C359.17 231.47 359.31 232.45 359.45 233.42 C359.59 234.40 359.72 235.38 359.86 236.36 C359.99 237.34 360.12 238.32 360.25 239.30 C360.38 240.27 360.50 241.25 360.62 242.24 C360.75 243.22 360.87 244.20 360.98 245.18 C361.10 246.16 361.22 247.14 361.34 248.13 C361.45 249.11 361.57 250.09 361.68 251.08 C361.80 252.06 361.91 253.05 362.02 254.04 C362.14 255.03 362.25 256.01 362.36 257.00 C362.48 257.99 362.59 258.98 362.70 259.98 C362.82 260.97 362.93 261.96 363.05 262.96 C363.17 263.95 363.28 264.95 363.40 265.95 C363.52 266.94 363.65 267.94 363.77 268.95 C363.89 269.95 364.02 270.95 364.15 271.95 C364.28 272.96 364.41 273.97 364.54 274.97 C364.68 275.98 364.81 276.99 364.96 278.01 C365.10 279.02 365.24 280.03 365.39 281.05 C365.54 282.07 365.78 283.60 365.85 284.11" fill="none" stroke="#8fb032" stroke-width="2.85" stroke-linejoin="round"/>
<path d="M214.18 85.66 C214.40 86.08 215.05 87.33 215.49 88.16 C215.93 89.00 216.38 89.85 216.83 90.69 C217.28 91.53 217.73 92.38 218.19 93.23 C218.65 94.08 219.12 94.93 219.59 95.78 C220.07 96.63 220.54 97.48 221.03 98.33 C221.52 99.18 222.01 100.03 222.51 100.87 C223.01 101.72 223.51 102.56 224.03 103.40 C224.54 104.24 225.06 105.08 225.60 105.91 C226.13 106.74 226.67 107.57 227.21 108.39 C227.76 109.21 228.32 110.03 228.89 110.84 C229.45 111.65 230.03 112.45 230.61 113.24 C231.20 114.04 231.80 114.82 232.40 115.60 C233.01 116.38 233.63 117.14 234.26 117.90 C234.88 118.66 235.52 119.40 236.18 120.14 C236.83 120.87 237.49 121.59 238.17 122.30 C238.84 123.01 239.53 123.71 240.23 124.39 C240.93 125.07 241.64 125.74 242.37 126.39 C243.09 127.04 243.83 127.68 244.59 128.30 C245.34 128.92 246.11 129.53 246.89 130.12 C247.67 130.70 248.47 131.27 249.28 131.82 C250.09 132.37 250.91 132.89 251.75 133.39 C252.59 133.89 253.44 134.37 254.29 134.82 C255.15 135.27 256.03 135.69 256.91 136.07 C257.79 136.46 258.68 136.81 259.58 137.13 C260.48 137.45 261.39 137.73 262.31 137.97 C263.23 138.21 264.16 138.42 265.09 138.57 C266.02 138.73 266.97 138.85 267.91 138.92 C268.86 139.00 269.81 139.03 270.77 139.02 C271.72 139.02 272.68 138.98 273.64 138.90 C274.60 138.83 275.57 138.72 276.53 138.57 C277.49 138.43 278.46 138.26 279.42 138.05 C280.39 137.85 281.35 137.62 282.31 137.36 C283.27 137.11 284.22 136.82 285.17 136.51 C286.12 136.21 287.07 135.88 288.01 135.53 C288.95 135.18 289.89 134.80 290.81 134.42 C291.74 134.03 292.65 133.63 293.56 133.21 C294.47 132.79 295.37 132.35 296.26 131.91 C297.14 131.47 298.02 131.01 298.89 130.55 C299.76 130.09 300.63 129.62 301.49 129.16 C302.35 128.70 303.20 128.23 304.06 127.77 C304.92 127.32 305.77 126.86 306.64 126.42 C307.50 125.98 308.36 125.55 309.23 125.14 C310.10 124.73 310.97 124.33 311.85 123.96 C312.74 123.59 313.63 123.24 314.54 122.92 C315.44 122.60 316.36 122.30 317.29 122.05 C318.23 121.79 319.18 121.56 320.14 121.38 C321.10 121.19 322.08 121.04 323.06 120.95 C324.03 120.85 325.02 120.80 325.99 120.80 C326.96 120.81 327.94 120.86 328.89 120.98 C329.84 121.10 330.78 121.27 331.70 121.52 C332.61 121.77 333.51 122.09 334.37 122.47 C335.23 122.85 336.06 123.30 336.86 123.81 C337.66 124.32 338.42 124.90 339.14 125.52 C339.87 126.14 340.55 126.82 341.20 127.54 C341.85 128.25 342.47 129.02 343.06 129.81 C343.65 130.59 344.20 131.42 344.74 132.26 C345.28 133.09 345.79 133.96 346.28 134.82 C346.78 135.68 347.25 136.55 347.71 137.43 C348.17 138.31 348.61 139.19 349.04 140.07 C349.46 140.96 349.87 141.85 350.27 142.75 C350.66 143.65 351.04 144.55 351.41 145.45 C351.78 146.36 352.13 147.27 352.47 148.18 C352.81 149.09 353.13 150.01 353.44 150.93 C353.76 151.86 354.06 152.78 354.35 153.71 C354.64 154.64 354.92 155.57 355.18 156.51 C355.45 157.44 355.71 158.38 355.96 159.32 C356.21 160.26 356.45 161.21 356.68 162.15 C356.91 163.10 357.13 164.05 357.34 165.00 C357.56 165.95 357.76 166.90 357.96 167.86 C358.17 168.81 358.36 169.77 358.55 170.73 C358.74 171.69 358.92 172.65 359.10 173.61 C359.27 174.57 359.45 175.53 359.62 176.49 C359.79 177.45 359.95 178.42 360.12 179.38 C360.28 180.35 360.44 181.31 360.60 182.28 C360.76 183.24 360.91 184.21 361.07 185.17 C361.22 186.14 361.38 187.10 361.53 188.07 C361.68 189.03 361.83 189.99 361.98 190.96 C362.13 191.92 362.28 192.89 362.43 193.85 C362.58 194.82 362.73 195.78 362.87 196.75 C363.02 197.71 363.16 198.68 363.30 199.64 C363.44 200.61 363.59 201.57 363.73 202.54 C363.86 203.50 364.00 204.47 364.14 205.43 C364.28 206.40 364.41 207.36 364.55 208.33 C364.68 209.30 364.81 210.26 364.94 211.23 C365.07 212.19 365.20 213.16 365.33 214.12 C365.46 215.09 365.59 216.06 365.71 217.02 C365.84 217.99 365.96 218.95 366.08 219.92 C366.20 220.89 366.32 221.85 366.44 222.82 C366.56 223.79 366.68 224.75 366.79 225.72 C366.91 226.69 367.02 227.65 367.14 228.62 C367.25 229.59 367.36 230.55 367.47 231.52 C367.58 232.49 367.68 233.46 367.79 234.42 C367.89 235.39 368.00 236.36 368.10 237.33 C368.20 238.30 368.30 239.27 368.40 240.23 C368.50 241.20 368.60 242.17 368.69 243.14 C368.79 244.11 368.88 245.08 368.97 246.05 C369.06 247.02 369.15 247.99 369.24 248.96 C369.33 249.93 369.42 250.90 369.50 251.87 C369.59 252.84 369.67 253.81 369.75 254.79 C369.83 255.76 369.91 256.73 369.98 257.70 C370.06 258.67 370.14 259.64 370.21 260.62 C370.28 261.59 370.35 262.56 370.42 263.54 C370.49 264.51 370.56 265.48 370.62 266.46 C370.69 267.43 370.75 268.41 370.81 269.38 C370.87 270.35 370.93 271.33 370.99 272.31 C371.05 273.28 371.10 274.26 371.15 275.23 C371.21 276.21 371.26 277.19 371.30 278.16 C371.35 279.14 371.40 280.12 371.44 281.09 C371.49 282.07 371.55 283.54 371.57 284.03" fill="none" stroke="#eb6235" stroke-width="2.85" stroke-linejoin="round"/>
</g>
<path d="M246.8 130.3H344.2" stroke="#000" stroke-width="1.5"/>
<circle cx="298.1" cy="197.8" r="1.7" fill="#000"/>
</svg>
</body></html>
